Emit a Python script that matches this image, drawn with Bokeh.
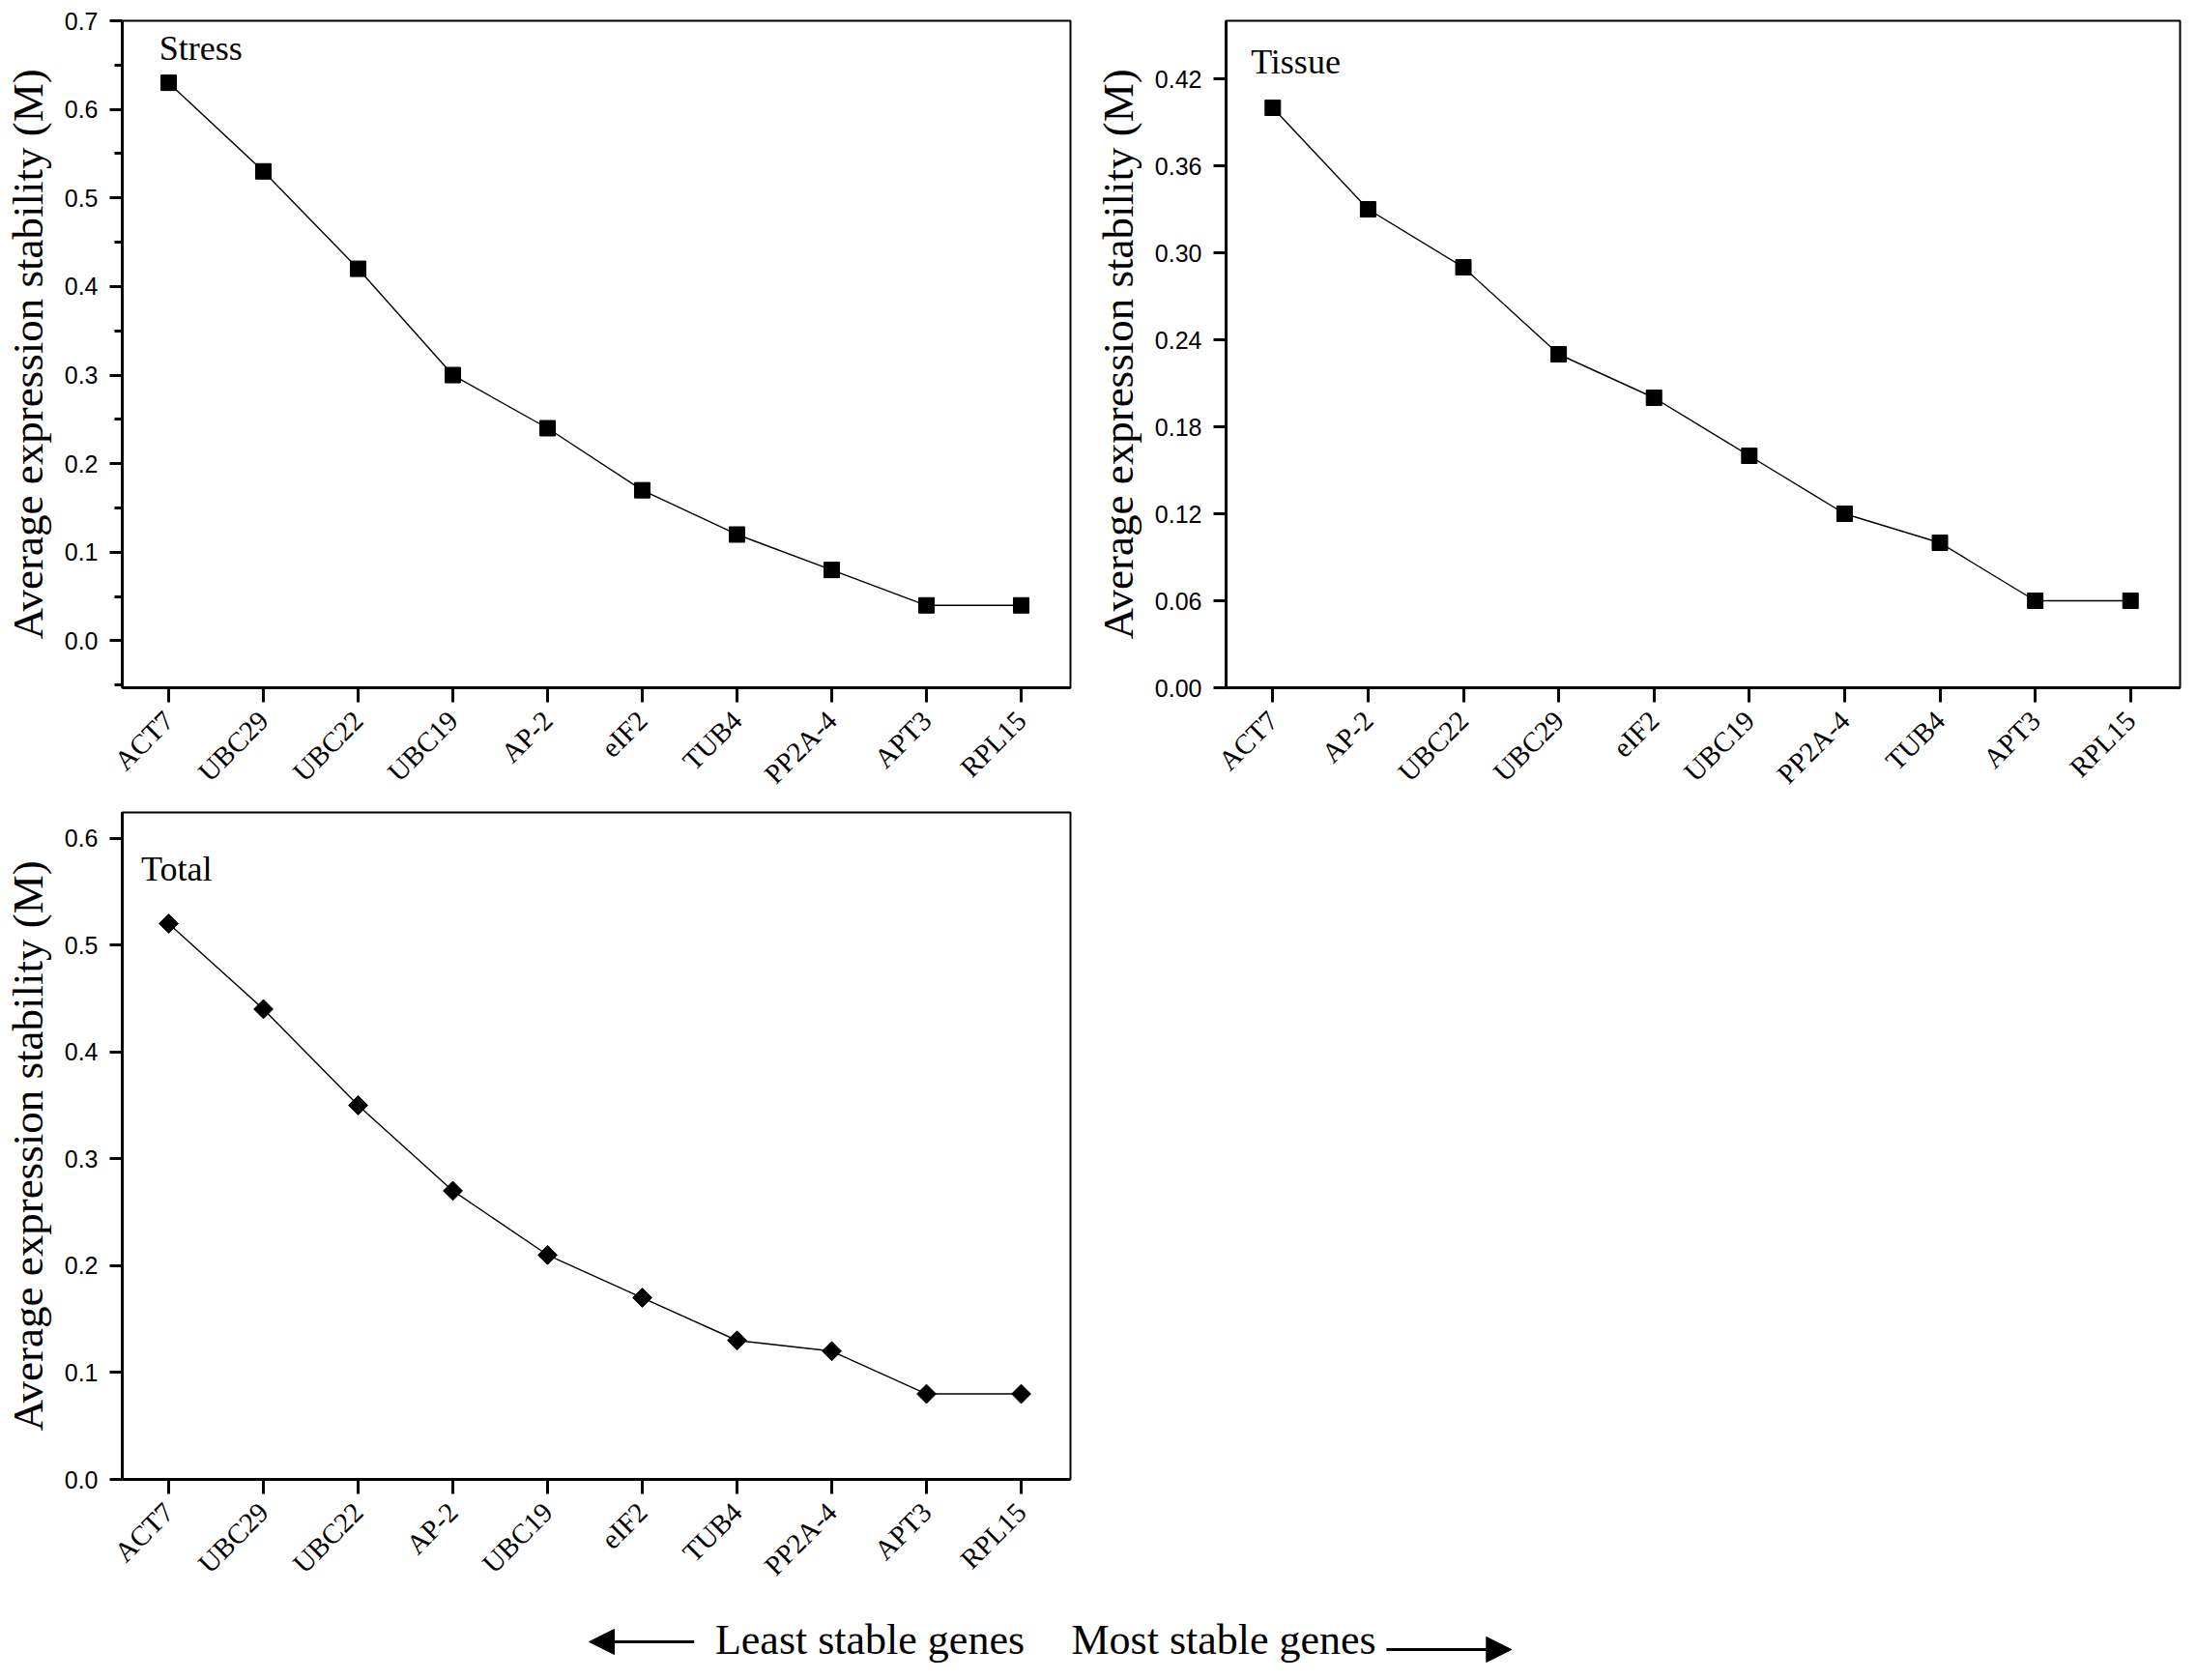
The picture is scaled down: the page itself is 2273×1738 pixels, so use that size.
import math
from bokeh.plotting import figure
from bokeh.layouts import column, row
from bokeh.models import Range1d, FixedTicker, Label, Arrow, NormalHead
from bokeh.embed import file_html
from bokeh.resources import INLINE

# ---------------- data ----------------
stress_genes = ["ACT7", "UBC29", "UBC22", "UBC19", "AP-2", "eIF2", "TUB4", "PP2A-4", "APT3", "RPL15"]
stress_vals = [0.63, 0.53, 0.42, 0.30, 0.24, 0.17, 0.12, 0.08, 0.04, 0.04]

tissue_genes = ["ACT7", "AP-2", "UBC22", "UBC29", "eIF2", "UBC19", "PP2A-4", "TUB4", "APT3", "RPL15"]
tissue_vals = [0.40, 0.33, 0.29, 0.23, 0.20, 0.16, 0.12, 0.10, 0.06, 0.06]

total_genes = ["ACT7", "UBC29", "UBC22", "AP-2", "UBC19", "eIF2", "TUB4", "PP2A-4", "APT3", "RPL15"]
total_vals = [0.52, 0.44, 0.35, 0.27, 0.21, 0.17, 0.13, 0.12, 0.08, 0.08]

stress_yticks = [0.0, 0.1, 0.2, 0.3, 0.4, 0.5, 0.6, 0.7]
stress_ylabels = ["0.0", "0.1", "0.2", "0.3", "0.4", "0.5", "0.6", "0.7"]
stress_yminor = [-0.05, 0.05, 0.15, 0.25, 0.35, 0.45, 0.55, 0.65]
tissue_yticks = [0.00, 0.06, 0.12, 0.18, 0.24, 0.30, 0.36, 0.42]
tissue_ylabels = ["0.00", "0.06", "0.12", "0.18", "0.24", "0.30", "0.36", "0.42"]
total_yticks = [0.0, 0.1, 0.2, 0.3, 0.4, 0.5, 0.6]
total_ylabels = ["0.0", "0.1", "0.2", "0.3", "0.4", "0.5", "0.6"]

YLABEL = "Average expression stability (M)"
SERIF = "Liberation Serif"
SANS = "Liberation Sans"


def make_panel(genes, vals, title, yr, yticks, yminor, ylabels, marker,
               width, height, bl, br, bt, bb, title_xy):
    p = figure(width=width, height=height, output_backend="svg",
               toolbar_location=None, x_range=Range1d(0.51, 10.52),
               y_range=Range1d(*yr), min_border_left=bl, min_border_right=br,
               min_border_top=bt, min_border_bottom=bb)
    p.grid.visible = False
    p.background_fill_color = "white"
    p.border_fill_color = "white"
    p.outline_line_color = "black"
    p.outline_line_width = 2
    xs = list(range(1, len(genes) + 1))
    p.line(xs, vals, line_color="black", line_width=1.4)
    if marker == "square":
        p.scatter(xs, vals, marker="square", size=16, fill_color="black", line_color="black")
    else:
        p.scatter(xs, vals, marker="square", size=14, angle=math.pi / 4,
                  fill_color="black", line_color="black")

    xa = p.xaxis[0]
    xa.ticker = FixedTicker(ticks=xs, minor_ticks=[])
    xa.major_label_overrides = {i: g for i, g in zip(xs, genes)}
    xa.major_label_orientation = math.pi / 4
    xa.major_label_text_font = SERIF
    xa.major_label_text_font_size = "29px"
    xa.major_label_text_color = "black"
    xa.major_tick_out = 15
    xa.major_tick_in = 0
    xa.major_tick_line_width = 3
    xa.axis_line_width = 3
    xa.major_label_standoff = 14

    ya = p.yaxis[0]
    ya.ticker = FixedTicker(ticks=yticks, minor_ticks=yminor)
    ya.major_label_overrides = {t: l for t, l in zip(yticks, ylabels)}
    ya.major_label_text_font = SANS
    ya.major_label_text_font_size = "25px"
    ya.major_label_text_color = "black"
    ya.major_tick_out = 13
    ya.major_tick_in = 0
    ya.minor_tick_out = 8
    ya.minor_tick_in = 0
    ya.major_tick_line_width = 3
    ya.minor_tick_line_width = 3
    ya.axis_line_width = 3
    ya.major_label_standoff = 12
    ya.axis_label = YLABEL
    ya.axis_label_text_font = SERIF
    ya.axis_label_text_font_style = "normal"
    ya.axis_label_text_font_size = "45px"
    ya.axis_label_text_color = "black"
    ya.axis_label_standoff = 10

    p.add_layout(Label(x=title_xy[0], y=title_xy[1], text=title, text_font=SERIF,
                       text_font_size="36px", text_baseline="middle",
                       text_align="left", text_color="black"))
    return p


p1 = make_panel(stress_genes, stress_vals, "Stress", (-0.053, 0.7), stress_yticks,
                stress_yminor, stress_ylabels, "square", 1127, 835, 120, 20, 21, 124,
                (0.9, 0.669))
p2 = make_panel(tissue_genes, tissue_vals, "Tissue", (0.0, 0.46), tissue_yticks,
                [], tissue_ylabels, "square", 1130, 835, 141, 2, 21, 124, (0.77, 0.432))
p3 = make_panel(total_genes, total_vals, "Total", (0.0, 0.624), total_yticks,
                [], total_ylabels, "diamond", 1127, 817, 120, 20, 5, 122, (0.71, 0.571))

# bottom caption with arrows (x in page pixels)
p4 = figure(width=2257, height=70, output_backend="svg", toolbar_location=None,
            x_range=Range1d(120, 2257), y_range=Range1d(0, 70),
            min_border_left=120, min_border_right=0,
            min_border_top=0, min_border_bottom=0)
p4.axis.visible = False
p4.grid.visible = False
p4.outline_line_color = None
p4.add_layout(Label(x=741, y=26, text="Least stable genes", text_font=SERIF,
                    text_font_size="44px", text_baseline="middle", text_align="left",
                    text_color="black"))
p4.add_layout(Label(x=1114, y=26, text="Most stable genes", text_font=SERIF,
                    text_font_size="44px", text_baseline="middle", text_align="left",
                    text_color="black"))
p4.add_layout(Arrow(x_start=719, y_start=24, x_end=609, y_end=24, line_width=3,
                    line_color="black",
                    end=NormalHead(size=26, fill_color="black", line_color="black")))
p4.add_layout(Arrow(x_start=1444, y_start=16, x_end=1575, y_end=16, line_width=3,
                    line_color="black",
                    end=NormalHead(size=26, fill_color="black", line_color="black")))

layout = column(row(p1, p2), p3, p4)
open("out.html", "w").write(file_html(layout, INLINE))
